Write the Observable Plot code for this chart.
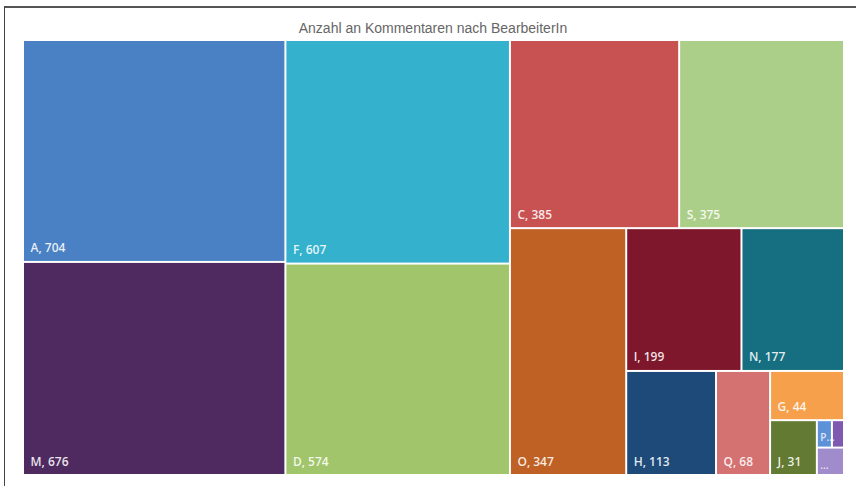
<!DOCTYPE html>
<html>
<head>
<meta charset="utf-8">
<script src="https://cdn.jsdelivr.net/npm/d3@7"></script>
<script src="https://cdn.jsdelivr.net/npm/@observablehq/plot@0.6"></script>
<style>
  html, body { margin: 0; padding: 0; background: #fff; }
  body { width: 856px; height: 486px; overflow: hidden; position: relative; }
  #frame { position: absolute; left: 4px; top: 6px; width: 900px; height: 600px;
           border-left: 1.5px solid #444; border-top: 2px solid #555; }
  #title { position: absolute; left: 10px; width: 846px; top: 20px; line-height: 16px;
           text-align: center; font-family: "Liberation Sans", Arial, sans-serif;
           font-size: 14px; color: #666; }
  #chart { position: absolute; left: 0; top: 40px; }
</style>
</head>
<body>
<div id="frame"></div>
<div id="title">Anzahl an Kommentaren nach BearbeiterIn</div>
<div id="chart"></div>
<script>
// Categories, values, shown labels and colours
const names  = ["A", "M", "F", "D", "C", "S", "O", "I", "N", "H", "Q", "G", "J", "P", "R", "…"];
const values = [704, 676, 607, 574, 385, 375, 347, 199, 177, 113, 68, 44, 31, 5, 4, 9];
const labels = ["A, 704", "M, 676", "F, 607", "D, 574", "C, 385", "S, 375", "O, 347", "I, 199",
                "N, 177", "H, 113", "Q, 68", "G, 44", "J, 31", "P...", "", "..."];
const colors = ["#4A80C4", "#4E2A61", "#33B1CD", "#A0C56A", "#C85151", "#ABCE89", "#BF6024", "#7E172B",
                "#166F80", "#1E4A7A", "#D47171", "#F6A04C", "#627A31", "#5E92D8", "#7F58B0", "#A08CCB"];
// squarified rows (number of cells per strip) as laid out in the reference
const rowSizes = [2, 2, 2, 1, 2, 1, 1, 1, 1, 2, 1];

const W = 821, H = 435;

function squarifyRows(vals, W, H) {
  let x0 = 0, y0 = 0, x1 = W, y1 = H, i = 0, rem = d3.sum(vals);
  const cells = [];
  for (const n of rowSizes) {
    const idx = d3.range(i, i + n);
    const rs = d3.sum(idx, j => vals[j]);
    const dx = x1 - x0, dy = y1 - y0;
    if (dx >= dy) {
      const w = dx * rs / rem; let yy = y0;
      for (const j of idx) { const h = dy * vals[j] / rs; cells.push({j, x0, x1: x0 + w, y0: yy, y1: yy + h}); yy += h; }
      x0 += w;
    } else {
      const h = dy * rs / rem; let xx = x0;
      for (const j of idx) { const w = dx * vals[j] / rs; cells.push({j, x0: xx, x1: xx + w, y0, y1: y0 + h}); xx += w; }
      y0 += h;
    }
    rem -= rs; i += n;
  }
  return cells;
}

const cells = squarifyRows(values, W, H).map(c => ({
  ...c, name: names[c.j], value: values[c.j], label: labels[c.j], color: colors[c.j]
}));
const big = cells.filter(c => c.x1 - c.x0 > 40);
const small = cells.filter(c => c.x1 - c.x0 <= 40 && c.label);

const chart = Plot.plot({
  width: 856,
  height: 446,
  marginLeft: 23,
  marginRight: 12,
  marginTop: 0,
  marginBottom: 11,
  x: {domain: [0, W], axis: null},
  y: {domain: [0, H], range: [0, H], axis: null},
  style: {background: "transparent"},
  marks: [
    Plot.rect(cells, {x1: "x0", x2: "x1", y1: "y0", y2: "y1", fill: "color", inset: 1}),
    Plot.text(big, {x: "x0", y: "y1", text: "label", dx: 7, dy: -10, textAnchor: "start",
      lineAnchor: "bottom", fill: "white", fillOpacity: 0.88, fontSize: 12,
      fontFamily: "'Open Sans', sans-serif", fontWeight: 600}),
    Plot.text(small, {x: "x0", y: "y1", text: "label", dx: 3, dy: -7, textAnchor: "start",
      lineAnchor: "bottom", fill: "white", fillOpacity: 0.8, fontSize: 10,
      fontFamily: "'Open Sans', sans-serif", fontWeight: 600})
  ]
});
document.getElementById("chart").appendChild(chart);
</script>
</body>
</html>
